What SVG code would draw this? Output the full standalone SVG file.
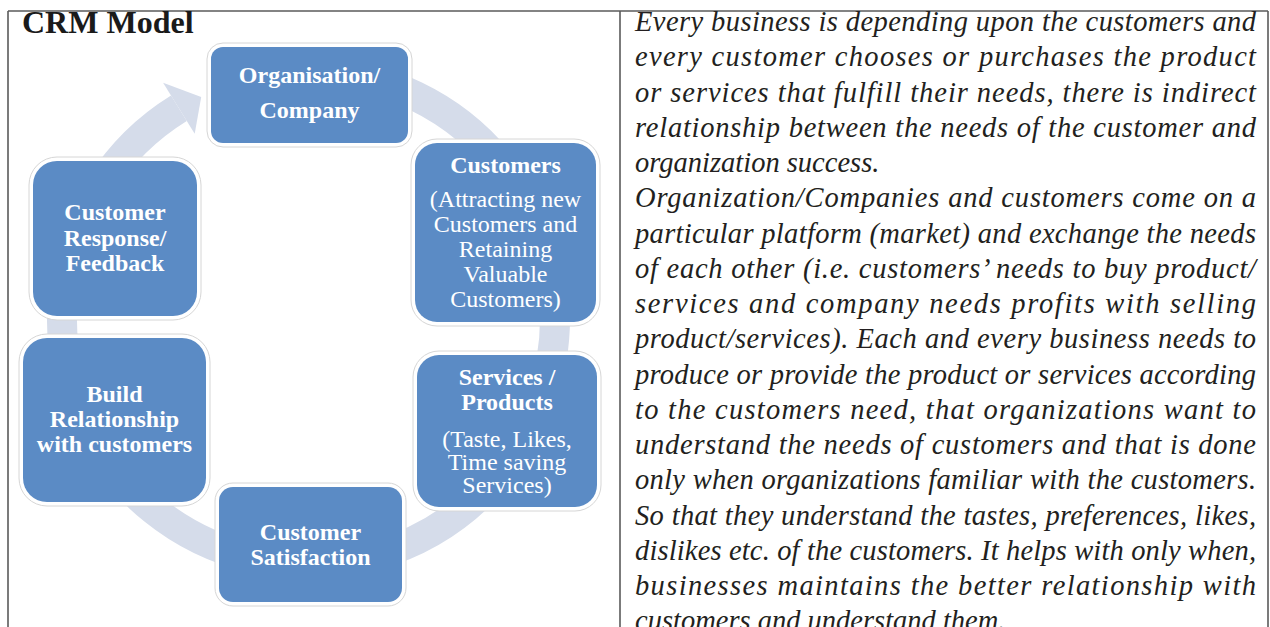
<svg xmlns="http://www.w3.org/2000/svg" width="1270" height="627" viewBox="0 0 1270 627">
<style>
.border{stroke:#5a5a5a;stroke-width:1.6;fill:none}
.title{font-family:"Liberation Serif",serif;font-weight:bold;font-size:32px;fill:#1a1a1a}
.halo{fill:#ffffff;stroke:#d6d6d6;stroke-width:1}
.box{fill:#5b8bc5;stroke:none}
.lbl{font-family:"Liberation Serif",serif;font-size:24px;fill:#ffffff;text-anchor:middle}
.b{font-weight:bold}
.ring{fill:none;stroke:#d5dcea;stroke-width:30}
.head{fill:#d5dcea}
.para{font-family:"Liberation Serif",serif;font-style:italic;font-size:28.5px;fill:#231f20}
</style>

<g id="table">
<line class="border" x1="8" y1="11" x2="1268" y2="11"/>
<line class="border" x1="8" y1="11" x2="8" y2="627"/>
<line class="border" x1="620" y1="11" x2="620" y2="627"/>
<line class="border" x1="1268" y1="11" x2="1268" y2="627"/>
</g>

<text class="title" x="22" y="33">CRM Model</text>

<g id="connectors">
<path class="ring" d="M308.5,71.5 A246.5,246.5 0 1 1 178.9,108.3"/>
<polygon class="head" points="163.1,82.8 201.2,97 194.7,133.8"/>
</g>

<g id="node-organisation">
<rect class="halo" x="207" y="43" width="205" height="104" rx="16"/>
<rect class="box" x="211" y="47" width="197" height="96" rx="12"/>
<text class="lbl b" x="309.5" y="83">Organisation/</text>
<text class="lbl b" x="309.5" y="118">Company</text>
</g>

<g id="node-customers">
<rect class="halo" x="411" y="139" width="189" height="187" rx="26"/>
<rect class="box" x="415" y="143" width="181" height="179" rx="22"/>
<text class="lbl b" x="505.5" y="173">Customers</text>
<text class="lbl" x="505.5" y="207">(Attracting new</text>
<text class="lbl" x="505.5" y="232">Customers and</text>
<text class="lbl" x="505.5" y="257">Retaining</text>
<text class="lbl" x="505.5" y="282">Valuable</text>
<text class="lbl" x="505.5" y="307">Customers)</text>
</g>

<g id="node-services">
<rect class="halo" x="413" y="351" width="188" height="160" rx="26"/>
<rect class="box" x="417" y="355" width="180" height="152" rx="22"/>
<text class="lbl b" x="507" y="385">Services /</text>
<text class="lbl b" x="507" y="410">Products</text>
<text class="lbl" x="507" y="447">(Taste, Likes,</text>
<text class="lbl" x="507" y="470">Time saving</text>
<text class="lbl" x="507" y="493">Services)</text>
</g>

<g id="node-satisfaction">
<rect class="halo" x="215" y="483" width="191" height="123" rx="18"/>
<rect class="box" x="219" y="487" width="183" height="115" rx="14"/>
<text class="lbl b" x="310.5" y="540">Customer</text>
<text class="lbl b" x="310.5" y="565">Satisfaction</text>
</g>

<g id="node-build">
<rect class="halo" x="19" y="334" width="191" height="172" rx="28"/>
<rect class="box" x="23" y="338" width="183" height="164" rx="24"/>
<text class="lbl b" x="114.5" y="402">Build</text>
<text class="lbl b" x="114.5" y="427">Relationship</text>
<text class="lbl b" x="114.5" y="452">with customers</text>
</g>

<g id="node-response">
<rect class="halo" x="29" y="157" width="172" height="163" rx="28"/>
<rect class="box" x="33" y="161" width="164" height="155" rx="24"/>
<text class="lbl b" x="115" y="220">Customer</text>
<text class="lbl b" x="115" y="245.5">Response/</text>
<text class="lbl b" x="115" y="271">Feedback</text>
</g>

<g id="paragraph">
<text class="para" x="635" y="31" textLength="621" lengthAdjust="spacing">Every business is depending upon the customers and</text>
<text class="para" x="635" y="66.25" textLength="621" lengthAdjust="spacing">every customer chooses or purchases the product</text>
<text class="para" x="635" y="101.5" textLength="621" lengthAdjust="spacing">or services that fulfill their needs, there is indirect</text>
<text class="para" x="635" y="136.75" textLength="621" lengthAdjust="spacing">relationship between the needs of the customer and</text>
<text class="para" x="635" y="172">organization success.</text>
<text class="para" x="635" y="207.25" textLength="621" lengthAdjust="spacing">Organization/Companies and customers come on a</text>
<text class="para" x="635" y="242.5" textLength="621" lengthAdjust="spacing">particular platform (market) and exchange the needs</text>
<text class="para" x="635" y="277.75" textLength="621" lengthAdjust="spacing">of each other (i.e. customers’ needs to buy product/</text>
<text class="para" x="635" y="313" textLength="621" lengthAdjust="spacing">services and company needs profits with selling</text>
<text class="para" x="635" y="348.25" textLength="621" lengthAdjust="spacing">product/services). Each and every business needs to</text>
<text class="para" x="635" y="383.5" textLength="621" lengthAdjust="spacing">produce or provide the product or services according</text>
<text class="para" x="635" y="418.75" textLength="621" lengthAdjust="spacing">to the customers need, that organizations want to</text>
<text class="para" x="635" y="454" textLength="621" lengthAdjust="spacing">understand the needs of customers and that is done</text>
<text class="para" x="635" y="489.25" textLength="621" lengthAdjust="spacing">only when organizations familiar with the customers.</text>
<text class="para" x="635" y="524.5" textLength="621" lengthAdjust="spacing">So that they understand the tastes, preferences, likes,</text>
<text class="para" x="635" y="559.75" textLength="621" lengthAdjust="spacing">dislikes etc. of the customers. It helps with only when,</text>
<text class="para" x="635" y="595" textLength="621" lengthAdjust="spacing">businesses maintains the better relationship with</text>
<text class="para" x="635" y="630.25">customers and understand them.</text>
</g>
</svg>
